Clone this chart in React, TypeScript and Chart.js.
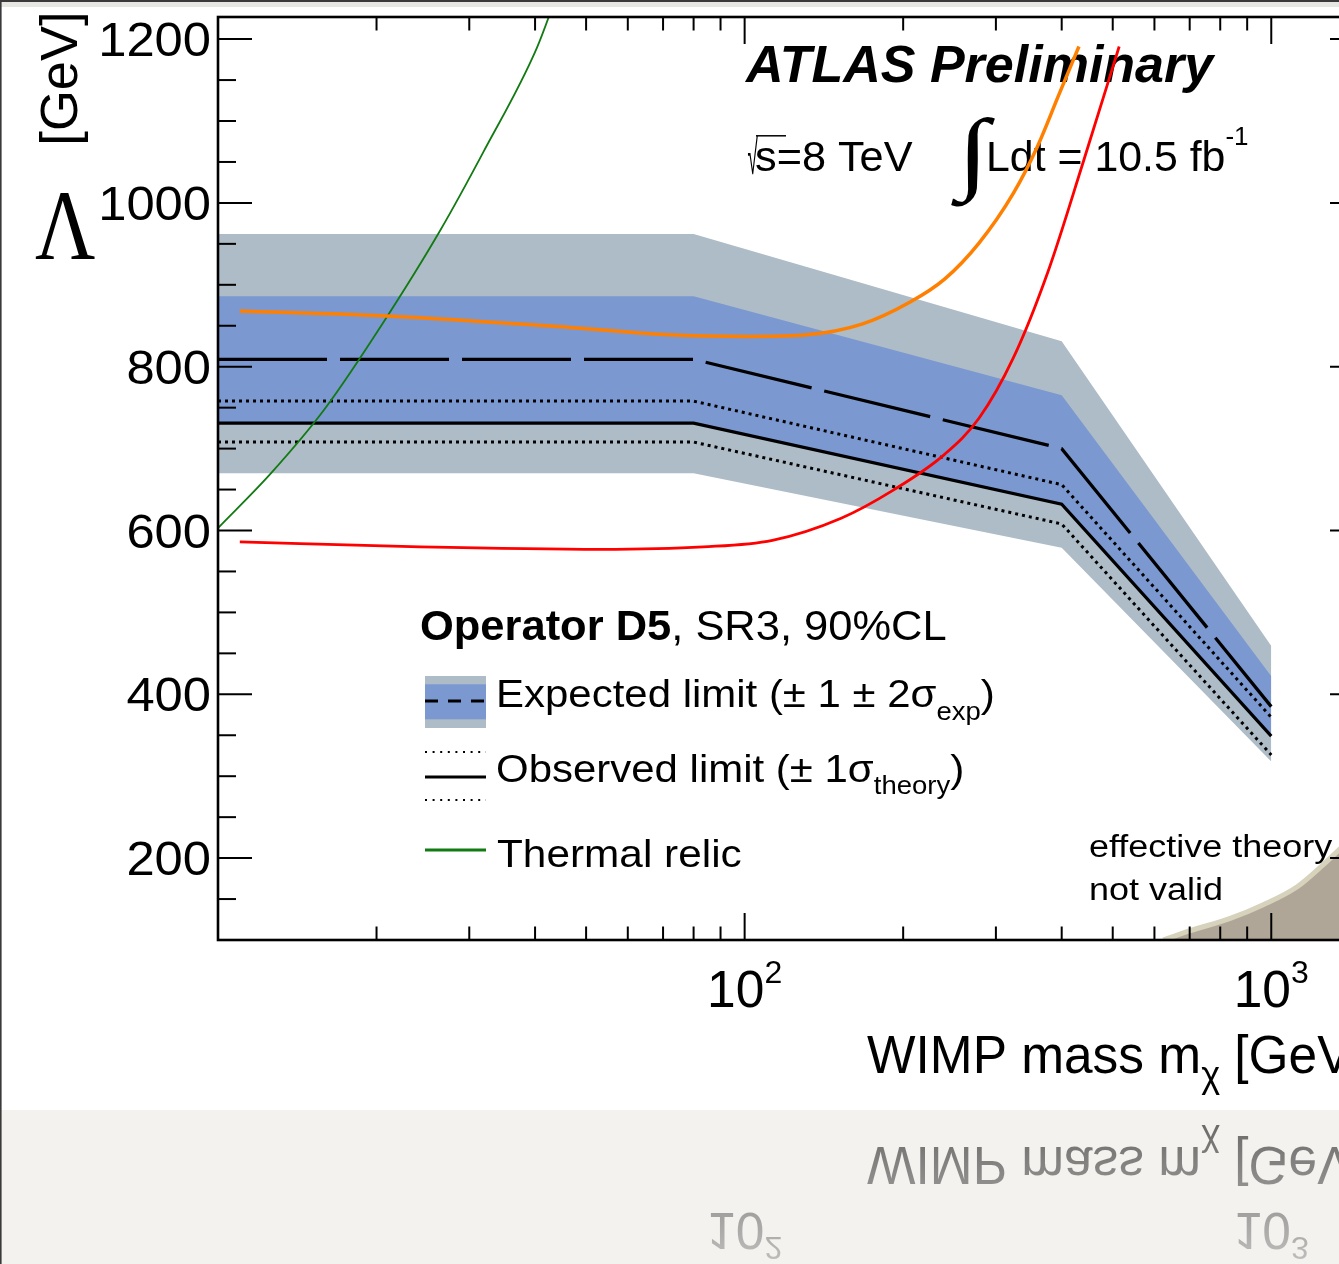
import React, { useEffect, useRef } from "react";
import { Chart, registerables } from "chart.js";

Chart.register(...registerables);

// ---------------- data ----------------
const massPoints = [10, 80, 400, 1000];
const expectedLimit = [809, 809, 700, 385];
const expectedPlus2 = [962, 962, 831, 459];
const expectedPlus1 = [886, 886, 765, 422];
const expectedMinus1 = [732, 732, 633, 350];
const expectedMinus2 = [670, 670, 579, 318];
const observedLimit = [731, 731, 632, 349];
const observedPlus = [758, 758, 656, 372];
const observedMinus = [708, 708, 608, 326];

const relicMass = [10, 12.65, 15.97, 20.6, 26.4, 31.9, 40.3, 44.6];
const relicLambda = [603, 671, 749, 854, 966, 1062, 1189, 1265];

const orangeMass = [11.0, 20.9, 46.6, 71.9, 101.5, 131.2, 167, 206.2, 239.7, 278.6, 323.9, 359.8, 393.9, 431.3];
const orangeLambda = [868, 862, 848, 839, 837, 839, 852, 879, 907, 951, 1012, 1069, 1130, 1191];

const redMass = [11.0, 24.2, 53.2, 83.5, 112.9, 152.5, 191.2, 239.7, 278.6, 323.9, 376.7, 439.5, 514.3];
const redLambda = [586, 580, 577, 580, 588, 615, 649, 693, 737, 811, 916, 1050, 1191];

const validityMass = [623.6, 701.9, 835.8, 965.6, 1120.3, 1255.6, 1346, 1500];
const validityLambda = [100, 111.3, 126.4, 143.1, 165.1, 192.1, 210.4, 238];

const yTickLabels = [200, 400, 600, 800, 1000, 1200];
const xTickValues = [100, 1000];
const xTickBase = ["10", "10"];
const xTickExp = ["2", "3"];

// ---------------- style ----------------
const W = 1400;
const H = 1264;
const SANS = '"Liberation Sans", Arial, Helvetica, sans-serif';
const SERIF = '"Liberation Serif", "Times New Roman", serif';
const GREY = "#adbcc6";
const BLUE = "#7b98d0";
const NONE = "rgba(0,0,0,0)";
const GREEN = "#127a12";
const ORANGE = "#ff8000";
const RED = "#ff0000";
const VALID_FILL = "#b0a697";
const VALID_EDGE = "#d6d2bc";

type Run = { t: string; size: number; weight?: string; style?: string; family?: string; sx?: number; dy?: number };

const fontOf = (r: Run) => `${r.style ?? "normal"} ${r.weight ?? "normal"} ${r.size}px ${r.family ?? SANS}`;

function runsWidth(ctx: CanvasRenderingContext2D, runs: Run[]) {
  let w = 0;
  for (const r of runs) {
    ctx.font = fontOf(r);
    w += ctx.measureText(r.t).width * (r.sx ?? 1);
  }
  return w;
}

function drawRuns(
  ctx: CanvasRenderingContext2D,
  runs: Run[],
  x: number,
  y: number,
  align: "left" | "center" | "right" = "left",
  color = "#000"
) {
  const total = runsWidth(ctx, runs);
  let cx = align === "center" ? x - total / 2 : align === "right" ? x - total : x;
  for (const r of runs) {
    ctx.save();
    ctx.font = fontOf(r);
    ctx.fillStyle = color;
    ctx.textAlign = "left";
    ctx.textBaseline = "alphabetic";
    const w = ctx.measureText(r.t).width * (r.sx ?? 1);
    ctx.translate(cx, y + (r.dy ?? 0));
    ctx.scale(r.sx ?? 1, 1);
    ctx.fillText(r.t, 0, 0);
    ctx.restore();
    cx += w;
  }
}

function fitText(
  ctx: CanvasRenderingContext2D,
  s: string,
  family: string,
  weight: string,
  x0: number,
  y0: number,
  x1: number,
  y1: number
) {
  ctx.save();
  ctx.font = `normal ${weight} 100px ${family}`;
  ctx.textAlign = "left";
  ctx.textBaseline = "alphabetic";
  const m = ctx.measureText(s);
  const l = -m.actualBoundingBoxLeft;
  const r = m.actualBoundingBoxRight;
  const t = -m.actualBoundingBoxAscent;
  const b = m.actualBoundingBoxDescent;
  const sx = (x1 - x0) / (r - l);
  const sy = (y1 - y0) / (b - t);
  ctx.translate(x0 - l * sx, y0 - t * sy);
  ctx.scale(sx, sy);
  ctx.fillStyle = "#000";
  ctx.fillText(s, 0, 0);
  ctx.restore();
}

function seg(ctx: CanvasRenderingContext2D, x1: number, y1: number, x2: number, y2: number) {
  ctx.beginPath();
  ctx.moveTo(x1, y1);
  ctx.lineTo(x2, y2);
  ctx.stroke();
}

function drawXLabels(ctx: CanvasRenderingContext2D, chart: any, color: string) {
  const xs = chart.scales.x;
  xTickValues.forEach((v, i) => {
    const px = xs.getPixelForValue(v);
    drawRuns(
      ctx,
      [
        { t: xTickBase[i], size: 51.5 },
        { t: xTickExp[i], size: 32, dy: -24 },
      ],
      px,
      1007,
      "center",
      color
    );
  });
  drawRuns(
    ctx,
    [
      { t: "WIMP mass m", size: 53, sx: 0.97 },
      { t: "χ", size: 36, dy: 14 },
      { t: " [GeV]", size: 53, sx: 0.97 },
    ],
    867,
    1073,
    "left",
    color
  );
}

const decorPlugin = {
  id: "decor",
  beforeDatasetsDraw(chart: any) {
    const ctx: CanvasRenderingContext2D = chart.ctx;
    const ys = chart.scales.y;
    ctx.save();
    // y tick labels
    yTickLabels.forEach((v) => {
      const py = ys.getPixelForValue(v);
      drawRuns(ctx, [{ t: String(v), size: 49, sx: 1.035 }], 211, py + 17, "right");
    });
    drawXLabels(ctx, chart, "#000");

    // y title
    fitText(ctx, "Λ", SERIF, "normal", 35, 193, 95, 259);
    ctx.save();
    ctx.translate(88, 142);
    ctx.rotate(-Math.PI / 2);
    fitText(ctx, "[GeV]", SANS, "normal", 0, -48, 127, 0);
    ctx.restore();

    // ATLAS label
    drawRuns(ctx, [{ t: "ATLAS Preliminary", size: 52, weight: "bold", style: "italic" }], 746, 82);
    fitText(ctx, "√", SANS, "normal", 748, 135, 758, 174);
    ctx.strokeStyle = "#000";
    ctx.lineWidth = 1.5;
    seg(ctx, 756, 135.8, 786, 135.8);
    drawRuns(ctx, [{ t: "s=8 TeV", size: 42, sx: 1.03 }], 755, 171);
    fitText(ctx, "∫", SERIF, "normal", 950, 117, 995, 207);
    drawRuns(
      ctx,
      [
        { t: "Ldt = 10.5 fb", size: 42, sx: 1.02 },
        { t: "-1", size: 26, dy: -26 },
      ],
      986,
      171
    );

    // legend
    drawRuns(
      ctx,
      [
        { t: "Operator D5", size: 42, weight: "bold", sx: 1.035 },
        { t: ", SR3, 90%CL", size: 42, sx: 1.035 },
      ],
      420,
      640
    );
    ctx.fillStyle = GREY;
    ctx.fillRect(425, 676, 61, 52);
    ctx.fillStyle = BLUE;
    ctx.fillRect(425, 684.3, 61, 35);
    ctx.strokeStyle = "#000";
    ctx.lineWidth = 3;
    ctx.setLineDash([13, 10]);
    seg(ctx, 425, 701, 486, 701);
    ctx.setLineDash([2, 5.6]);
    ctx.lineWidth = 2;
    seg(ctx, 425, 752, 486, 752);
    seg(ctx, 425, 800, 486, 800);
    ctx.setLineDash([]);
    ctx.lineWidth = 3;
    seg(ctx, 425, 777, 486, 777);
    ctx.strokeStyle = GREEN;
    seg(ctx, 425, 850, 486, 850);

    drawRuns(
      ctx,
      [
        { t: "Expected limit (± 1 ± 2σ", size: 38.5, sx: 1.09 },
        { t: "exp", size: 25, sx: 1.1, dy: 13 },
        { t: ")", size: 38.5, sx: 1.1 },
      ],
      496,
      707
    );
    drawRuns(
      ctx,
      [
        { t: "Observed limit (± 1σ", size: 38.5, sx: 1.09 },
        { t: "theory", size: 25, sx: 1.1, dy: 12 },
        { t: ")", size: 38.5, sx: 1.1 },
      ],
      496,
      782
    );
    drawRuns(ctx, [{ t: "Thermal relic", size: 38.5, sx: 1.1 }], 497, 867);

    // validity note
    drawRuns(ctx, [{ t: "effective theory", size: 31, sx: 1.16 }], 1089, 857);
    drawRuns(ctx, [{ t: "not valid", size: 31, sx: 1.16 }], 1089, 900);
    ctx.restore();
  },
  afterDatasetsDraw(chart: any) {
    const ctx: CanvasRenderingContext2D = chart.ctx;
    const a = chart.chartArea;
    const xs = chart.scales.x;
    const ys = chart.scales.y;
    ctx.save();
    ctx.strokeStyle = "#000";
    ctx.lineWidth = 2;
    ctx.setLineDash([]);
    for (let v = 150; v <= ys.max; v += 50) {
      const py = ys.getPixelForValue(v);
      const len = v % 200 === 0 ? 34 : 18;
      seg(ctx, a.left, py, a.left + len, py);
      seg(ctx, a.right, py, a.right - len, py);
    }
    for (const dec of [10, 100, 1000]) {
      for (let k = 1; k <= 9; k++) {
        const v = dec * k;
        if (v <= xs.min || v > xs.max) continue;
        const px = xs.getPixelForValue(v);
        const len = k === 1 ? 27 : 13.5;
        seg(ctx, px, a.bottom, px, a.bottom - len);
        seg(ctx, px, a.top, px, a.top + len);
      }
    }
    ctx.lineWidth = 2.6;
    ctx.strokeRect(a.left, a.top, a.right - a.left, a.bottom - a.top);
    ctx.restore();
  },
  afterDraw(chart: any) {
    const ctx: CanvasRenderingContext2D = chart.ctx;
    const R = 1110;
    ctx.save();
    // reflection floor
    ctx.fillStyle = "#f4f2ef";
    ctx.fillRect(0, R, W, H - R);
    ctx.save();
    ctx.beginPath();
    ctx.rect(0, R, W, H - R);
    ctx.clip();
    ctx.translate(0, 2 * R);
    ctx.scale(1, -1);
    ctx.globalAlpha = 0.6;
    drawXLabels(ctx, chart, "#000");
    ctx.restore();
    const g = ctx.createLinearGradient(0, R, 0, H);
    g.addColorStop(0, "rgba(244,242,239,0)");
    g.addColorStop(1, "rgba(244,242,239,0.65)");
    ctx.fillStyle = g;
    ctx.fillRect(0, R, W, H - R);
    // slide frame edges
    ctx.fillStyle = "#e8e6e1";
    ctx.fillRect(0, 0, W, 7);
    ctx.fillStyle = "#3a3a3a";
    ctx.fillRect(0, 0, W, 2);
    ctx.fillRect(0, 0, 1.6, H);
    ctx.restore();
  },
};

const xy = (xs: number[], ys: number[]) => xs.map((x, i) => ({ x, y: ys[i] }));

export default function App() {
  const ref = useRef<HTMLCanvasElement>(null);
  useEffect(() => {
    const canvas = ref.current;
    if (!canvas) return;
    const chart = new Chart(canvas, {
      type: "line",
      data: {
        datasets: [
          { label: "-2 sigma", data: xy(massPoints, expectedMinus2), borderColor: NONE, borderWidth: 0, fill: false, order: 95 },
          { label: "+2 sigma", data: xy(massPoints, expectedPlus2), borderColor: NONE, borderWidth: 0, backgroundColor: GREY, fill: 0, order: 100 },
          { label: "-1 sigma", data: xy(massPoints, expectedMinus1), borderColor: NONE, borderWidth: 0, fill: false, order: 95 },
          { label: "+1 sigma", data: xy(massPoints, expectedPlus1), borderColor: NONE, borderWidth: 0, backgroundColor: BLUE, fill: 2, order: 90 },
          {
            label: "effective theory not valid",
            data: xy(validityMass, validityLambda),
            borderColor: VALID_EDGE,
            borderWidth: 5,
            backgroundColor: VALID_FILL,
            fill: "start",
            cubicInterpolationMode: "monotone",
            order: 85,
          },
          { label: "Observed -1 sigma theory", data: xy(massPoints, observedMinus), borderColor: "#000", borderWidth: 3, borderDash: [3, 4], fill: false, order: 60 },
          { label: "Observed +1 sigma theory", data: xy(massPoints, observedPlus), borderColor: "#000", borderWidth: 3, borderDash: [3, 4], fill: false, order: 60 },
          { label: "Observed limit", data: xy(massPoints, observedLimit), borderColor: "#000", borderWidth: 3.2, fill: false, order: 50 },
          { label: "Expected limit", data: xy(massPoints, expectedLimit), borderColor: "#000", borderWidth: 3.3, borderDash: [109, 13], fill: false, order: 40 },
          { label: "Thermal relic", data: xy(relicMass, relicLambda), borderColor: GREEN, borderWidth: 1.8, cubicInterpolationMode: "monotone", fill: false, clip: 0, order: 30 },
          { label: "orange", data: xy(orangeMass, orangeLambda), borderColor: ORANGE, borderWidth: 3.5, cubicInterpolationMode: "monotone", fill: false, order: 20 },
          { label: "red", data: xy(redMass, redLambda), borderColor: RED, borderWidth: 2.8, cubicInterpolationMode: "monotone", fill: false, order: 10 },
        ] as any,
      },
      options: {
        animation: false,
        responsive: false,
        devicePixelRatio: 1,
        events: [],
        layout: { padding: { left: 218, top: 17, right: W - 1364, bottom: H - 940 } },
        plugins: {
          legend: { display: false },
          tooltip: { enabled: false },
          title: { display: false },
        },
        elements: { point: { radius: 0 }, line: { tension: 0 } },
        scales: {
          x: { type: "logarithmic", min: 10, max: 1500, display: false, bounds: "data" },
          y: { type: "linear", min: 100, max: 1227, display: false, bounds: "data" },
        },
      } as any,
      plugins: [decorPlugin],
    });
    return () => chart.destroy();
  }, []);

  return (
    <div
      style={{
        position: "fixed",
        left: 0,
        top: 0,
        width: 1339,
        height: 1264,
        overflow: "hidden",
        background: "#fff",
      }}
    >
      <canvas ref={ref} width={W} height={H} style={{ display: "block", width: W, height: H }} />
    </div>
  );
}
